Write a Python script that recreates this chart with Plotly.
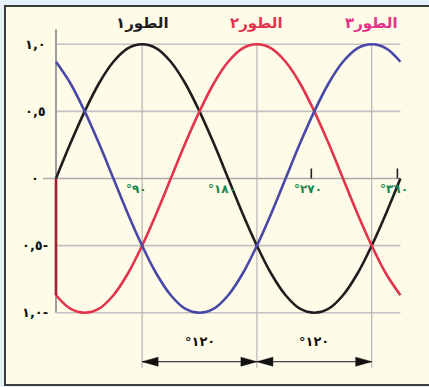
import plotly.graph_objects as go

# ---------------- data ----------------
angles = [0, 15, 30, 45, 60, 75, 90, 105, 120, 135, 150, 165, 180,
          195, 210, 225, 240, 255, 270, 285, 300, 315, 330, 345, 360]
phase1 = [0, 0.26, 0.5, 0.71, 0.87, 0.97, 1.0, 0.97, 0.87, 0.71, 0.5, 0.26, 0,
          -0.26, -0.5, -0.71, -0.87, -0.97, -1.0, -0.97, -0.87, -0.71, -0.5, -0.26, 0]
phase2 = [-0.87, -0.97, -1.0, -0.97, -0.87, -0.71, -0.5, -0.26, 0, 0.26, 0.5, 0.71, 0.87,
          0.97, 1.0, 0.97, 0.87, 0.71, 0.5, 0.26, 0, -0.26, -0.5, -0.71, -0.87]
phase3 = [0.87, 0.71, 0.5, 0.26, 0, -0.26, -0.5, -0.71, -0.87, -0.97, -1.0, -0.97, -0.87,
          -0.71, -0.5, -0.26, 0, 0.26, 0.5, 0.71, 0.87, 0.97, 1.0, 0.97, 0.87]

series_names = ["الطور١", "الطور٢", "الطور٣"]
series_peaks = [90, 210, 330]
y_ticks = [1.0, 0.5, 0, -0.5, -1.0]
y_tick_labels = ["١,٠", "٠,٥", "٠", "٠,٥-", "١,٠-"]
x_marks = [90, 180, 270, 360]
x_mark_labels = ["°٩٠", "°١٨٠", "°٢٧٠", "°٣٦٠"]
shift_label = "°١٢٠"

# ---------------- styles ----------------
W, H = 429, 387
PX_PER_DEG = 0.9567
PX_PER_UNIT = 134.2
X0_PX, Y0_PX = 56.0, 178.5
x_range = [-X0_PX / PX_PER_DEG, (W - X0_PX) / PX_PER_DEG]
y_range = [-(H - Y0_PX) / PX_PER_UNIT, Y0_PX / PX_PER_UNIT]

def dx(px):
    return px / PX_PER_DEG

def dy(px):
    return px / PX_PER_UNIT

curve_colors = ["#1e1e1e", "#e2344c", "#4848a8"]
title_colors = ["#1e1e1e", "#e2344c", "#e3338c"]
green = "#17894f"
grid_col = "#c2c2c2"
FONT = "DejaVu Sans"

fig = go.Figure()

# panel
fig.add_shape(type="rect", xref="paper", yref="paper",
              x0=5 / W, x1=1.02, y0=1 - 385 / H, y1=1 - 6 / H,
              fillcolor="#fffbe9", line=dict(color="#3c3c3c", width=2), layer="below")

ymin, ymax = min(y_ticks), max(y_ticks)
arrow_y = ymin - dy(49)
vline_bottom = ymin - dy(55)

# horizontal grid
for v in y_ticks:
    x_start = -dx(13) if v == 0 else 0
    fig.add_shape(type="line", x0=x_start, x1=angles[-1], y0=v, y1=v,
                  line=dict(color="#aaaaaa" if v == 0 else grid_col, width=1.6), layer="below")
# vertical grid at peaks
for p in series_peaks:
    fig.add_shape(type="line", x0=p, x1=p, y0=ymax, y1=vline_bottom,
                  line=dict(color="#b4b4b4", width=1.2), layer="below")
# y axis line
fig.add_shape(type="line", x0=0, x1=0, y0=ymin, y1=ymax + dy(15),
              line=dict(color="#a0a0a0", width=2), layer="below")

# tick marks on the angle axis
for m in x_marks[2:]:
    fig.add_shape(type="line", x0=m - dx(3), x1=m - dx(3), y0=0, y1=dy(10),
                  line=dict(color="#222222", width=1.6))

# curves
for name, vals, col in zip(series_names, [phase1, phase2, phase3], curve_colors):
    fig.add_trace(go.Scatter(x=angles, y=vals, mode="lines", name=name,
                             line=dict(color=col, width=2.6, shape="spline"),
                             hoverinfo="skip"))
# dark red start segment of phase 2
fig.add_trace(go.Scatter(x=[angles[0], angles[0]], y=[0, phase2[0]], mode="lines",
                         line=dict(color="#a21f2e", width=2.6), hoverinfo="skip"))

# phase shift arrows
fig.add_shape(type="line", x0=series_peaks[0], x1=series_peaks[-1], y0=arrow_y, y1=arrow_y,
              line=dict(color="#444444", width=1.2))
L, HH = dx(16), dy(4.5)

def head(tip, direction):
    b = tip - direction * L
    return f"M {tip},{arrow_y} L {b},{arrow_y + HH} L {b},{arrow_y - HH} Z"

for a, b in zip(series_peaks[:-1], series_peaks[1:]):
    for tip, d in [(a, -1), (b, 1)]:
        fig.add_shape(type="path", path=head(tip, d), fillcolor="#111111",
                      line=dict(color="#111111", width=0.5))
    fig.add_annotation(x=(a + b) / 2, y=arrow_y + dy(20), text=shift_label, showarrow=False,
                       font=dict(family=FONT, size=13, color="#111111", weight="bold"))

# series titles
for name, p, col in zip(series_names, series_peaks, title_colors):
    fig.add_annotation(x=p, y=ymax + dy(21), text=name, showarrow=False,
                       font=dict(family=FONT, size=15, color=col, weight="bold"))

# y tick labels
for v, t in zip(y_ticks, y_tick_labels):
    fig.add_annotation(x=-dx(21), y=v, text=t, showarrow=False,
                       font=dict(family=FONT, size=13, color="#111111", weight="bold"))

# angle labels
for m, t in zip(x_marks, x_mark_labels):
    fig.add_annotation(x=m - dx(6), y=-dy(10), text=t, showarrow=False,
                       font=dict(family=FONT, size=12, color=green, weight="bold"))

fig.update_xaxes(range=x_range, visible=False, fixedrange=True)
fig.update_yaxes(range=y_range, visible=False, fixedrange=True)
fig.update_layout(width=W, height=H, autosize=False,
                  margin=dict(l=0, r=0, t=0, b=0, pad=0),
                  paper_bgcolor="#e4f1fa", plot_bgcolor="rgba(0,0,0,0)",
                  showlegend=False)

fig.write_html("out.html", config={"displayModeBar": False},
               post_script="document.body.style.margin='0';document.body.style.overflow='hidden';")
